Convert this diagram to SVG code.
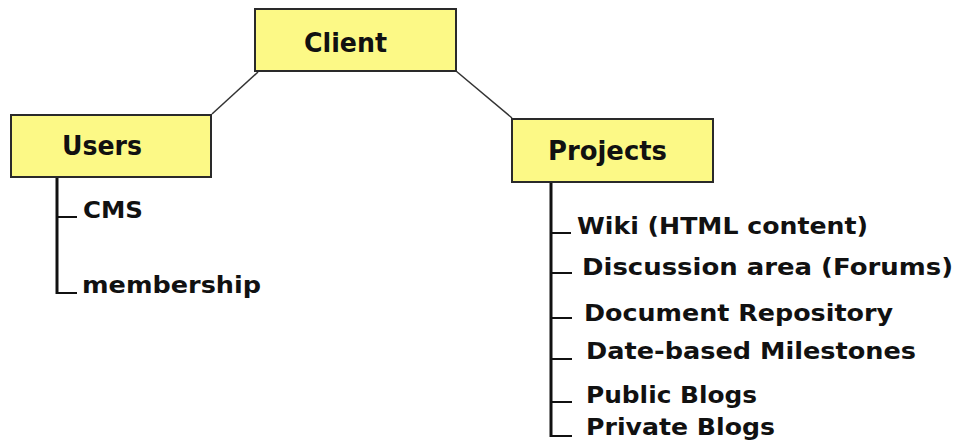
<svg xmlns="http://www.w3.org/2000/svg" width="962" height="446" viewBox="0 0 962 446">
<style>
.box{fill:#fcf986;stroke:#2a2a2a;stroke-width:2}
.head{font-family:"DejaVu Sans",Verdana,sans-serif;font-weight:bold;font-size:26px;fill:#111}
.item{font-family:"DejaVu Sans",Verdana,sans-serif;font-weight:bold;font-size:23px;fill:#111}
.link{stroke:#333;stroke-width:1.5;fill:none}
.trunk{stroke:#111;stroke-width:3;fill:none}
.branch{stroke:#111;stroke-width:2;fill:none}
</style>
<rect width="962" height="446" fill="#fff"/>
<g id="connectors">
<line class="link" x1="258" y1="72" x2="212" y2="114"/>
<line class="link" x1="456" y1="71" x2="512" y2="118"/>
<line class="trunk" x1="57" y1="177" x2="57" y2="294"/>
<line class="branch" x1="57" y1="217" x2="77" y2="217"/>
<line class="branch" x1="56" y1="293" x2="77" y2="293"/>
<line class="trunk" x1="551" y1="182" x2="551" y2="437"/>
<line class="branch" x1="551" y1="233" x2="571" y2="233"/>
<line class="branch" x1="551" y1="273" x2="572" y2="273"/>
<line class="branch" x1="551" y1="318" x2="572" y2="318"/>
<line class="branch" x1="551" y1="359" x2="572" y2="359"/>
<line class="branch" x1="551" y1="402" x2="572" y2="402"/>
<line class="branch" x1="550" y1="436" x2="572" y2="436"/>
</g>
<g id="client">
<rect class="box" x="255" y="9" width="201" height="62"/>
<text class="head" x="304" y="52" textLength="83" lengthAdjust="spacingAndGlyphs">Client</text>
</g>
<g id="users">
<rect class="box" x="11" y="115" width="200" height="62"/>
<text class="head" x="62" y="155" textLength="80" lengthAdjust="spacingAndGlyphs">Users</text>
</g>
<g id="projects">
<rect class="box" x="512" y="119" width="201" height="63"/>
<text class="head" x="548" y="160" textLength="119" lengthAdjust="spacingAndGlyphs">Projects</text>
</g>
<g id="users-items">
<text class="item" x="83" y="218" textLength="60" lengthAdjust="spacingAndGlyphs">CMS</text>
<text class="item" x="82" y="293" textLength="179" lengthAdjust="spacingAndGlyphs">membership</text>
</g>
<g id="projects-items">
<text class="item" x="577" y="234" textLength="291" lengthAdjust="spacingAndGlyphs">Wiki (HTML content)</text>
<text class="item" x="582" y="275" textLength="371" lengthAdjust="spacingAndGlyphs">Discussion area (Forums)</text>
<text class="item" x="584" y="321" textLength="309" lengthAdjust="spacingAndGlyphs">Document Repository</text>
<text class="item" x="586" y="359" textLength="330" lengthAdjust="spacingAndGlyphs">Date-based Milestones</text>
<text class="item" x="586" y="403" textLength="171" lengthAdjust="spacingAndGlyphs">Public Blogs</text>
<text class="item" x="586" y="435" textLength="189" lengthAdjust="spacingAndGlyphs">Private Blogs</text>
</g>
</svg>
